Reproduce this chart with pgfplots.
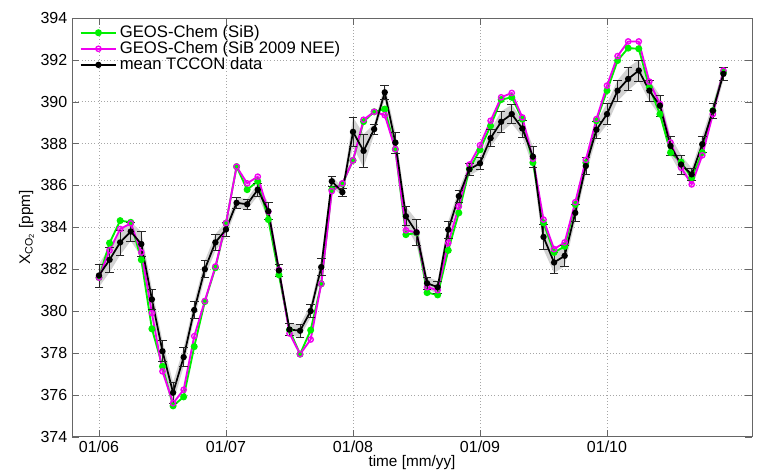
\documentclass[border=0pt]{standalone}
\usepackage{fontspec}
\setmainfont{Liberation Sans}
\usepackage{pgfplots}
\usepackage{pgfplotstable}
\pgfplotsset{compat=1.18}
\usepgfplotslibrary{fillbetween}

% monthly means, m = months since 01/2006
% G = GEOS-Chem (SiB), M = GEOS-Chem (SiB 2009 NEE), B = mean TCCON, E = spread
\pgfplotstableread{
m   G       M       B       E
0   381.60  381.60  381.70  0.55
1   383.25  382.90  382.45  0.60
2   384.32  383.92  383.28  0.60
3   384.24  384.19  383.80  0.45
4   382.45  382.80  383.20  0.60
5   379.15  379.90  380.56  0.50
6   377.36  377.12  378.08  0.50
7   375.47  375.60  376.10  0.50
8   375.90  376.24  377.80  0.45
9   378.30  378.80  380.05  0.40
10  380.45  380.48  382.00  0.40
11  382.07  382.13  383.28  0.40
12  384.20  384.20  383.90  0.35
13  386.90  386.90  385.17  0.25
14  385.80  386.10  385.10  0.25
15  386.20  386.42  385.80  0.30
16  384.37  384.75  384.77  0.40
17  381.73  381.97  381.94  0.30
18  379.09  378.93  379.12  0.30
19  377.94  377.94  379.06  0.30
20  379.09  378.64  380.00  0.30
21  381.30  381.30  382.10  0.40
22  385.80  385.73  386.20  0.25
23  386.08  386.10  385.68  0.20
24  387.20  387.20  388.56  0.70
25  389.05  389.14  387.65  0.80
26  389.52  389.52  388.69  0.25
27  389.65  389.36  390.45  0.35
28  387.73  387.73  388.05  0.50
29  383.65  383.86  384.53  0.45
30  383.73  383.76  383.76  0.60
31  380.88  381.14  381.33  0.30
32  380.77  381.00  381.14  0.30
33  382.90  383.25  383.89  0.40
34  384.69  385.00  385.49  0.30
35  386.80  387.00  386.77  0.30
36  387.70  387.92  387.06  0.30
37  388.85  389.09  388.26  0.40
38  390.10  390.21  389.04  0.50
39  390.21  390.42  389.41  0.45
40  389.17  389.25  388.72  0.40
41  387.09  387.28  387.38  0.50
42  384.21  384.37  383.54  0.60
43  382.80  382.96  382.32  0.50
44  383.09  383.28  382.64  0.50
45  385.09  385.20  384.69  0.40
46  387.09  387.22  386.93  0.40
47  389.09  389.17  388.66  0.40
48  390.53  390.77  389.41  0.50
49  391.97  392.18  390.53  0.50
50  392.56  392.88  391.09  0.55
51  392.53  392.88  391.49  0.50
52  390.69  390.96  390.53  0.50
53  389.41  389.89  389.81  0.50
54  387.57  388.05  387.89  0.45
55  387.12  386.85  387.00  0.45
56  386.37  386.05  386.53  0.30
57  387.57  387.44  387.97  0.40
58  389.57  389.41  389.57  0.35
59  391.41  391.49  391.33  0.30
}\data

\definecolor{sibgreen}{RGB}{0,240,0}
\definecolor{sibmag}{RGB}{240,0,240}

\begin{document}
\begin{tikzpicture}
\begin{axis}[
    scale only axis, width=510pt, height=314pt,
    xmin=-2.55, xmax=61.7, ymin=374, ymax=394,
    xtick={0,12,24,36,48}, xticklabels={01/06,01/07,01/08,01/09,01/10},
    ytick={374,376,...,394},
    /pgf/number format/assume math mode=true,
    tick label style={font=\fontsize{12}{14}\selectfont},
    label style={font=\fontsize{11.5}{13}\selectfont},
    xlabel={time [mm/yy]},
    ylabel={X\textsubscript{CO\textsubscript{2}} [ppm]},
    xlabel style={yshift=5pt},
    ylabel style={yshift=-2pt},
    grid=major, grid style={dotted, gray!70},
    axis line style={gray!80!black}, tick style={gray!80!black},
    major tick length=5pt,
    legend style={at={(0.005,0.995)}, anchor=north west, draw=none, fill=none,
        font=\fontsize{12.5}{14}\selectfont, row sep=-2.5pt},
    legend cell align=left,
    legend image code/.code={\draw[mark repeat=2, mark phase=2]
        plot coordinates {(0cm,0cm) (0.47cm,0cm) (0.94cm,0cm)};},
]
\addplot[name path=lo, draw=none, forget plot] table[x=m, y expr=\thisrow{B}-\thisrow{E}] {\data};
\addplot[name path=hi, draw=none, forget plot] table[x=m, y expr=\thisrow{B}+\thisrow{E}] {\data};
\addplot[gray!35, forget plot] fill between[of=lo and hi];

\addplot[sibgreen, line width=1.4pt, mark=*, mark size=1.9pt] table[x=m, y=G] {\data};
\addlegendentry{GEOS-Chem (SiB)}
\addplot[sibmag, line width=1.4pt, mark=o, mark size=2pt, mark options={line width=1pt}] table[x=m, y=M] {\data};
\addlegendentry{GEOS-Chem (SiB 2009 NEE)}
\addplot[black, line width=1.3pt, mark=*, mark size=1.7pt,
    error bars/.cd, y dir=both, y explicit,
    error bar style={gray!30!black, line width=0.5pt},
    error mark options={rotate=90, mark size=3.2pt, gray!30!black, line width=0.5pt}]
    table[x=m, y=B, y error=E] {\data};
\addlegendentry{mean TCCON data}
\end{axis}
\pgfresetboundingbox
\useasboundingbox ([xshift=-54pt,yshift=-27pt]current axis.south west) rectangle ([xshift=3.75pt,yshift=13.5pt]current axis.north east);
\end{tikzpicture}
\end{document}
